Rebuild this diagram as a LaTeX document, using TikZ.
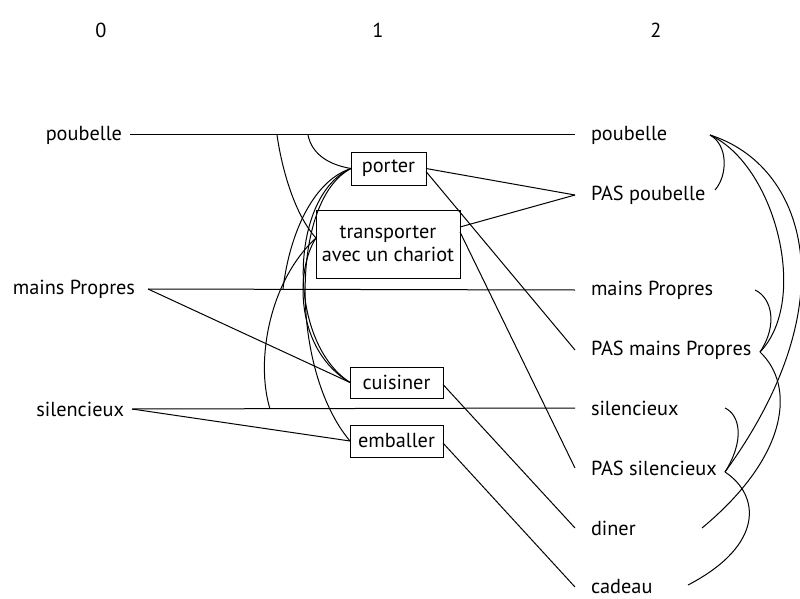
\documentclass[tikz,border=0pt]{standalone}
\usepackage{fontspec}
\setmainfont{PT Sans}
\begin{document}
\begin{tikzpicture}[x=1pt,y=-1pt,line width=1pt,
  every node/.style={font=\fontsize{20.3}{23}\selectfont},
  lft/.style={anchor=east,inner sep=0pt,outer xsep=8pt},
  rgt/.style={anchor=west,inner sep=0pt,outer xsep=16pt},
  box/.style={draw,inner sep=0pt,outer sep=0pt,align=center},
  hdr/.style={inner sep=0pt}]
\useasboundingbox (0,0) rectangle (800,599);
% headers
\node[hdr] (h0) at (101,30) {0};
\node[hdr] (h1) at (378,30) {1};
\node[hdr] (h2) at (656,30) {2};
% level 0
\node[lft] (lpoub) at (130,135) {poubelle};
\node[lft,outer xsep=13pt] (lmains) at (148,289) {mains Propres};
\node[lft] (lsil) at (132,409) {silencieux};
% level 2
\node[rgt] (rpoub) at (575,135) {poubelle};
\node[rgt] (rnpoub) at (575,195) {PAS poubelle};
\node[rgt] (rmains) at (575,290) {mains Propres};
\node[rgt] (rnmains) at (575,350) {PAS mains Propres};
\node[rgt] (rsil) at (575,408) {silencieux};
\node[rgt] (rnsil) at (575,468) {PAS silencieux};
\node[rgt] (rdiner) at (575,528) {diner};
\node[rgt] (rcad) at (575,587) {cadeau};
% actions
\node[box,minimum width=75pt,minimum height=33pt] (porter) at (388.5,168.5) {porter};
\node[box,minimum width=144pt,minimum height=68pt] (transp) at (388,244) {transporter\\avec un chariot};
\node[box,minimum width=93pt,minimum height=31pt] (cuis) at (396.5,382.5) {cuisiner};
\node[box,minimum width=93pt,minimum height=32pt] (emb) at (396.5,441) {emballer};
% named points
\coordinate (bpA) at (277,135);
\coordinate (bpB) at (308,135);
\coordinate (bpC) at (283,289);
\coordinate (bpD) at (270,409);
\coordinate (tw) at ([yshift=6pt]transp.west);
\coordinate (tpoub) at ([xshift=135pt]rpoub.west);
\coordinate (tnpoub) at ([xshift=140pt,yshift=5pt]rnpoub.west);
\coordinate (tmains) at ([xshift=180pt]rmains.west);
\coordinate (tnmains) at ([xshift=185pt,yshift=-2pt]rnmains.west);
\coordinate (tsil) at ([xshift=150pt]rsil.west);
\coordinate (tnsil) at ([xshift=150pt,yshift=-4pt]rnsil.west);
\coordinate (tdiner) at ([xshift=127pt]rdiner.west);
\coordinate (tcad) at ([xshift=113pt,yshift=2pt]rcad.west);
% persistence lines
\draw (lpoub.east) -- (rpoub.west);
\draw (lmains.east) -- (rmains.west);
\draw (lsil.east) -- (rsil.west);
% preconditions
\draw (lmains.east) -- (cuis.west);
\draw (lsil.east) -- (emb.west);
% effects
\draw (porter.east) -- (rnpoub.west);
\draw ([yshift=17pt]transp.east) -- (rnpoub.west);
\draw ([yshift=-3pt]porter.east) -- (rnmains.west);
\draw ([yshift=12pt]transp.east) -- (rnsil.west);
\draw ([yshift=-2pt]cuis.east) -- (rdiner.west);
\draw ([yshift=-2pt]emb.east) -- (rcad.west);
% mutex curves, level 1
\draw (bpB) .. controls (312,155) and (330,165) .. (porter.west);
\draw (bpA) .. controls (282,170) and (295,215) .. (tw);
\draw (tw) .. controls (270,280) and (255,360) .. (bpD);
\draw (porter.west) .. controls (315,180) and (290,230) .. (bpC);
\draw (porter.west) .. controls (290,195) and (285,340) .. (cuis.west);
\draw (tw) .. controls (295,270) and (295,350) .. (cuis.west);
\draw (porter.west) .. controls (290,200) and (290,370) .. (emb.west);
% mutex curves, level 2
\draw (tpoub) .. controls (728,145) and (728,175) .. (tnpoub);
\draw (tpoub) .. controls (775,165) and (810,300) .. (tnmains);
\draw (tpoub) .. controls (805,165) and (850,300) .. (tnsil);
\draw (tmains) .. controls (772,298) and (778,325) .. (tnmains);
\draw (tsil) .. controls (740,415) and (745,440) .. (tnsil);
\draw (tnmains) .. controls (795,385) and (790,455) .. (tdiner);
\draw (tnsil) .. controls (760,495) and (765,545) .. (tcad);
\end{tikzpicture}
\end{document}
